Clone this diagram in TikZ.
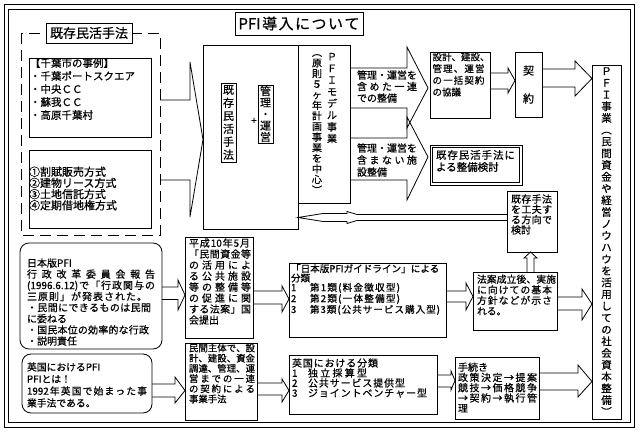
\documentclass[tikz,border=0pt]{standalone}
\usepackage{fontspec}
\setmainfont{Noto Sans CJK JP}[FakeBold=0.6]
\usetikzlibrary{fit}
\newcommand\fs[2]{\fontsize{#1}{#2}\selectfont}
\let\sprdStop\relax
\def\sprd#1#2{\hbox to #1{\sprdA#2\sprdStop}}
\def\sprdA#1{#1\sprdB}
\def\sprdB#1{\ifx#1\sprdStop\else\hfil#1\expandafter\sprdB\fi}
\newcommand\barrow[8]{\draw[barrow] (#1,#4) -- (#2,#4) -- (#2,#6) -- (#3,#8) -- (#2,#7) -- (#2,#5) -- (#1,#5);}
\begin{document}
\begin{tikzpicture}[x=1pt,y=-1pt,
  box/.style={draw,line width=0.8pt,inner sep=0pt,outer sep=0pt},
  rbox/.style={box,rounded corners=9pt},
  txt/.style={inner sep=0pt,outer sep=0pt,align=left,anchor=west},
  vtxt/.style={inner sep=0pt,outer sep=0pt,align=center,anchor=center},
  barrow/.style={draw,line width=0.8pt,line join=miter},
  dashbox/.style={draw,line width=0.8pt,dash pattern=on 11pt off 6pt},
]
\useasboundingbox (0,0) rectangle (641,433);
% frame
\draw[line width=1pt] (4.5,4.5) rectangle (634,427.5);
\draw[line width=0.8pt] (8.5,9) rectangle (630,422.5);
% title
\node[box,fit={(235,12) (363,35)}] (title) {};
\node[vtxt,font=\fs{15}{17}] (titletxt) at (title.center) {\sprd{121pt}{{PFI}導入について}};
% dashed group
\draw[dashbox] (21,33) rectangle (160,235);
\node[box,fill=white,fit={(46,23) (132,43)}] (kizonlabel) {};
\node[vtxt,font=\fs{13}{15}] (kizonlabeltxt) at (kizonlabel.center) {既存民活手法};
\node[box,fit={(29,58) (151,137)}] (chiba) {};
\node[txt,font=\fs{10.5}{13}] (chibatxt) at (30,89) {【千葉市の事例】\\・千葉ポートスクエア\\・中央ＣＣ\\・蘇我ＣＣ\\・高原千葉村};
\node[box,fit={(29,150) (151,228)}] (houshiki) {};
\node[txt,font=\fs{11}{11.2}] (houshikitxt) at (29,188.5) {①割賦販売方式\\②建物リース方式\\③土地信託方式\\④定期借地権方式};
% big arrow
\draw[barrow] (160,100) -- (190,100) -- (190,62) -- (203,139.5) -- (190,217) -- (190,180) -- (160,180);
% main box
\node[box,fit={(203,45) (298,229)}] (mainbox) {};
\node[box,fit={(221,83) (236,162)}] (kizonv) {};
\node[vtxt,font=\fs{11}{13}] (kizonvtxt) at (kizonv.center) {既\\存\\民\\活\\手\\法};
\node[box,fit={(258,85) (273,143)}] (kanri) {};
\node[vtxt,font=\fs{11}{11.5}] (kanritxt) at (kanri.center) {管\\理\\・\\運\\営};
\node[vtxt,font=\fs{10}{12}] (plus) at (254,121) {+};
\node[box,fit={(298,45) (350,203)}] (model) {};
\node[vtxt,font=\fs{10}{11.7}] (modeltxt) at (332,98) {Ｐ\\Ｆ\\Ｉ\\モ\\デ\\ル\\事\\業};
\node[vtxt,font=\fs{10}{10.6}] (modeltxtb) at (317,124) {︵\\原\\則\\５\\ヶ\\年\\計\\画\\事\\業\\を\\中\\心\\︶};
% arrows from model
\barrow{350}{407}{428}{68}{108}{47}{128}{88}
\barrow{350}{407}{428}{138}{180}{117}{200}{157}
\node[txt,font=\fs{10}{11.5}] (upartxt) at (357,86.5) {\sprd{60pt}{管理・運営を}\\\sprd{60pt}{含めた一連}\\での整備};
\node[txt,font=\fs{10}{12}] (lowartxt) at (357,160) {\sprd{60pt}{管理・運営を}\\\sprd{60pt}{含まない施}\\設整備};
% sekkei
\node[box,fit={(430,52) (490,118)}] (sekkei) {};
\node[txt,font=\fs{9.5}{11.7}] (sekkeitxt) at (432.5,74.5) {\sprd{55pt}{設計、建設、}\\\sprd{52pt}{管理、運営}\\\sprd{52pt}{の一括契約}\\の協議};
\barrow{490}{508}{515}{73}{89}{68}{93}{80.5}
\node[box,fit={(515,52) (542,117)}] (keiyaku) {};
\node[vtxt,font=\fs{11}{28}] (keiyakutxt) at (keiyaku.center) {契\\約};
\barrow{542}{575}{592}{69}{87}{61}{96}{78.5}
% PFI jigyo
\node[box,fit={(592,65) (621,419)}] (pfi) {};
\node[vtxt,font=\fs{10.5}{11.75}] (pfitxt) at (606.5,241.5) {Ｐ\\Ｆ\\Ｉ\\事\\業\\︵\\民\\間\\資\\金\\や\\経\\営\\ノ\\ウ\\ハ\\ウ\\を\\活\\用\\し\\て\\の\\社\\会\\資\\本\\整\\備\\︶};
% kizon seibi kento (double box)
\node[box,fit={(430,145) (522,185)}] (kentou) {};
\draw[line width=0.8pt] ([shift={(2.5,2.5)}]kentou.north west) rectangle ([shift={(-2.5,-2.5)}]kentou.south east);
\node[txt,font=\fs{10.5}{12}] (kentoutxt) at (436,161) {\sprd{79pt}{既存民活手法に}\\よる整備検討};
% kizon shuho kufu
\node[box,fit={(507,191) (557,252)}] (kufu) {};
\node[txt,font=\fs{10}{10.3}] (kufutxt) at (511,214.5) {\sprd{41pt}{既存手法}\\\sprd{41pt}{を工夫す}\\\sprd{41pt}{る方向で}\\検討};
% thin left arrow
\draw[barrow] (kufu.west |- 0,214.5) -- (357,214.5) -- (347,211.5) -- (347,213.5) -- (323,213.5) -- (mainbox.east |- 0,217.5) -- (323,221.5) -- (347,221.5) -- (347,223.5) -- (357,220.5) -- (kufu.west |- 0,220.5);
% small up arrow
\draw[barrow] (527,272) -- (527,258) -- (524,258) -- (530.5,252) -- (537,258) -- (534,258) -- (534,272);
% nihon
\node[rbox,fit={(20,243) (162,349)}] (nihon) {};
\node[txt,font=\fs{10}{11.15}] (nihontxt) at (27,302) {日本版PFI\\\sprd{128pt}{行政改革委員会報告}\\\sprd{128pt}{{(1996.6.12)}で「行政関与の}\\\sprd{120pt}{三原則」が発表された。}\\\sprd{124pt}{・民間にできるものは民間}\\に委ねる\\\sprd{122pt}{・国民本位の効率的な行政}\\・説明責任};
\barrow{162}{178}{185}{287}{299.5}{280}{310}{295}
% heisei
\node[box,fit={(185,237) (253,338)}] (heisei) {};
\node[txt,font=\fs{10}{11}] (heiseitxt) at (189,281.5) {\sprd{61pt}{平成{10}年5月}\\\sprd{62pt}{「民間資金等}\\\sprd{62pt}{の活用によ}\\\sprd{62pt}{る公共施設}\\\sprd{62pt}{等の整備等}\\\sprd{62pt}{の促進に関}\\\sprd{62pt}{する法案」国}\\会提出};
\barrow{253}{282}{289}{291}{304}{286}{312}{299}
% guideline
\node[box,fit={(289,263) (446,337)}] (guide) {};
\node[txt,font=\fs{9.6}{9.4}] (guidetxt) at (291,289.5) {「日本版PFIガイドライン」による\\分類\\\makebox[19pt][l]{1}\sprd{90pt}{第1類(料金徴収型)}\\\makebox[19pt][l]{2}\sprd{90pt}{第2類(一体整備型)}\\\makebox[19pt][l]{3}\sprd{130pt}{第3類(公共サービス購入型)}};
\barrow{446}{466}{473}{291}{302}{283}{310}{296.5}
% houan
\node[box,fit={(473,272) (557,330)}] (houan) {};
\node[txt,font=\fs{9.8}{10.6}] (houantxt) at (477,295) {\sprd{79pt}{法案成立後、実施}\\\sprd{75pt}{に向けての基本}\\\sprd{75pt}{方針などが示さ}\\れる。};
\barrow{557}{582}{592}{297}{310}{289}{320}{304}
% eikoku
\node[rbox,fit={(22,354) (152,413)}] (eikoku) {};
\node[txt,font=\fs{9.8}{12}] (eikokutxt) at (27,385) {英国におけるPFI\\PFIとは！\\\sprd{120pt}{{1992}年英国で始まった事}\\業手法である。};
\barrow{152}{175}{185}{384}{397}{377}{403}{390.5}
% minkan
\node[box,fit={(185,343) (257,420)}] (minkan) {};
\node[txt,font=\fs{9.4}{10.2}] (minkantxt) at (189,373.5) {\sprd{66pt}{民間主体で、設}\\\sprd{66pt}{計、建設、資金}\\\sprd{66pt}{調達、管理、運}\\\sprd{66pt}{営までの一連}\\\sprd{66pt}{の契約による}\\事業手法};
\barrow{257}{282}{289}{383}{395}{379}{402}{390.5}
% eikoku bunrui
\node[box,fit={(289,355) (437,414)}] (bunrui) {};
\node[txt,font=\fs{10}{10}] (bunruitxt) at (292,378) {\sprd{86pt}{英国における分類}\\\makebox[16pt][l]{1}\sprd{59pt}{独立採算型}\\\makebox[16pt][l]{2}\sprd{97pt}{公共サービス提供型}\\\makebox[16pt][l]{3}\sprd{119pt}{ジョイントベンチャー型}};
\barrow{437}{451}{455}{375}{387}{371}{390}{380.5}
% tetsuzuki
\node[box,fit={(455,357) (539,419)}] (tetsu) {};
\node[txt,font=\fs{10}{10.25}] (tetsutxt) at (458,387.5) {手続き\\\sprd{79pt}{政策決定→提案}\\\sprd{79pt}{競技→価格競争}\\\sprd{79pt}{→契約→執行管}\\理};
\barrow{539}{578}{592}{373}{390}{365}{397}{381.5}
\end{tikzpicture}
\end{document}
